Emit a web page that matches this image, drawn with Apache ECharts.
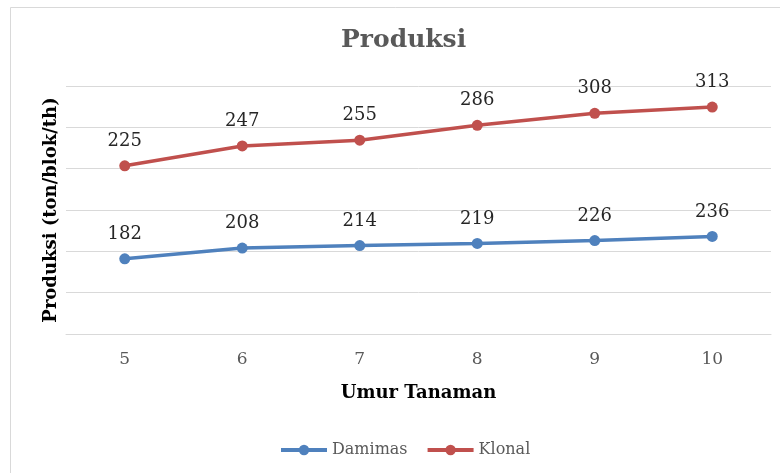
<!DOCTYPE html>
<html>
<head>
<meta charset="utf-8">
<script src="https://cdn.jsdelivr.net/npm/echarts@6/dist/echarts.min.js"></script>
<style>html,body{margin:0;padding:0;background:#fff}#c{width:780px;height:473px}</style>
</head>
<body>
<div id="c"></div>
<script>
const categories = ['5', '6', '7', '8', '9', '10'];
const damimas = [182, 208, 214, 219, 226, 236];
const klonal = [225, 247, 255, 286, 308, 313];
const serif = '"DejaVu Serif", serif';

const chart = echarts.init(document.getElementById('c'));
chart.setOption({
  animation: false,
  backgroundColor: '#fff',
  graphic: [{
    type: 'rect',
    shape: { x: 10.5, y: 7.5, width: 900, height: 600 },
    style: { fill: 'none', stroke: '#d9d9d9', lineWidth: 1 }
  }],
  title: {
    text: 'Produksi',
    left: 336,
    top: 23,
    textStyle: { fontFamily: serif, fontWeight: 'bold', fontSize: 25, color: '#595959' }
  },
  grid: { left: 66, right: 9, top: 86, bottom: 139, containLabel: false },
  legend: {
    top: 437,
    left: 274,
    itemWidth: 46,
    itemHeight: 13,
    itemGap: 18,
    lineStyle: { width: 4 },
    textStyle: { fontFamily: serif, fontSize: 16, color: '#595959' },
    data: ['Damimas', 'Klonal']
  },
  xAxis: {
    type: 'category',
    data: categories,
    name: 'Umur Tanaman',
    nameLocation: 'middle',
    nameGap: 50,
    nameTextStyle: { fontFamily: serif, fontWeight: 'bold', fontSize: 18, color: '#000' },
    axisLine: { show: true, lineStyle: { color: '#d9d9d9' } },
    axisTick: { show: false },
    axisLabel: { fontFamily: serif, fontSize: 17, color: '#595959', margin: 17 }
  },
  yAxis: {
    type: 'value',
    min: 0,
    max: 600,
    interval: 100,
    name: 'Produksi (ton/blok/th)',
    nameLocation: 'middle',
    nameGap: 6,
    nameRotate: 90,
    nameTextStyle: { fontFamily: serif, fontWeight: 'bold', fontSize: 18, color: '#000' },
    axisLine: { show: false },
    axisTick: { show: false },
    axisLabel: { show: false },
    splitLine: { lineStyle: { color: '#d9d9d9', width: 1 } }
  },
  series: [
    {
      name: 'Damimas',
      type: 'line',
      stack: 'total',
      data: damimas,
      color: '#4F81BD',
      symbol: 'circle',
      symbolSize: 11,
      lineStyle: { width: 3.5 },
      label: { show: true, position: 'top', distance: 10, fontFamily: serif, fontSize: 18, color: '#262626' }
    },
    {
      name: 'Klonal',
      type: 'line',
      stack: 'total',
      data: klonal,
      color: '#C0504D',
      symbol: 'circle',
      symbolSize: 11,
      lineStyle: { width: 3.5 },
      label: { show: true, position: 'top', distance: 10, fontFamily: serif, fontSize: 18, color: '#262626' }
    }
  ]
});
</script>
</body>
</html>
